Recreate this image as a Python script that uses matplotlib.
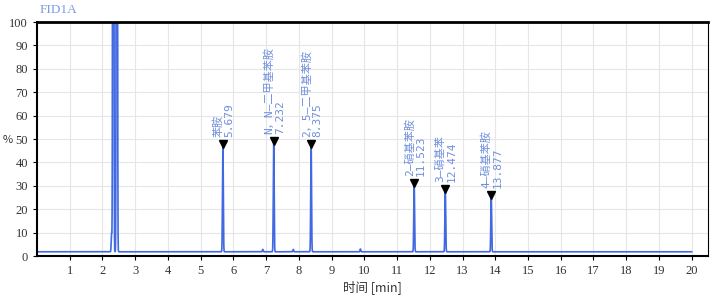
import numpy as np
import matplotlib.pyplot as plt

plt.rcParams['font.family'] = ['Noto Sans CJK SC', 'DejaVu Sans']

# peak table (retention time in min, height in %)
labeled_rt = [5.679, 7.232, 8.375, 11.523, 12.474, 13.877]
labeled_h = [46.5, 47.5, 46.5, 29.5, 27.0, 24.5]
labeled_names = ['苯胺', 'N，N—二甲基苯胺', '2，5—二甲基苯胺', '2—硝基苯胺', '3—硝基苯', '4—硝基苯胺']
# solvent and minor peaks
other_rt = [2.28, 2.33, 2.44, 6.90, 7.83, 9.88]
other_h = [8.0, 900.0, 900.0, 1.0, 1.0, 1.2]
baseline = 1.8

# build signal
t = np.linspace(0, 20, 8001)
y = np.full_like(t, baseline)
for rt, h in zip(labeled_rt + other_rt, labeled_h + other_h):
    w = 0.012
    y += h * np.exp(-0.5 * ((t - rt) / w) ** 2)

fig = plt.figure(figsize=(7.14, 2.95), dpi=100)
ax = fig.add_axes([0.0518, 0.1322, 0.9398, 0.7932])
ax.plot(t, y, color='#4169e1', lw=1.2)

ax.set_xlim(0, 20.5)
ax.set_ylim(0, 100)
ax.set_xticks(range(1, 21))
ax.set_yticks(range(0, 101, 10))
ax.grid(color='#e6e6e6', lw=0.8)
ax.set_axisbelow(True)
for s in ax.spines.values():
    s.set_color('black')
ax.spines['top'].set_linewidth(2)
ax.spines['left'].set_linewidth(1.5)
ax.spines['bottom'].set_linewidth(1.5)
ax.tick_params(labelsize=9, length=3, colors='black')
for lab in ax.get_xticklabels() + ax.get_yticklabels():
    lab.set_family('Liberation Serif')
    lab.set_color('#333333')

for rt, h, name in zip(labeled_rt, labeled_h, labeled_names):
    ax.plot(rt, h + 1.5, marker='v', color='black', ms=6)
    ax.text(rt + 0.02, h + 4.5, f'{name}\n{rt:.3f}', rotation=90, ha='center', va='bottom',
            multialignment='left', fontsize=8, color='#6f8fdc', linespacing=1.15,
            family=['DejaVu Sans Mono', 'Noto Sans CJK SC'])

fig.text(0.056, 0.955, 'FID1A', fontsize=9.5, color='#7f9be0', family='Liberation Serif')
ax.set_xlabel('时间 [min]', fontsize=9, color='#333333', labelpad=2)
fig.text(0.004, 0.525, '%', fontsize=8, color='#333333', ha='left', va='center')

fig.savefig('out.png', dpi=100)
